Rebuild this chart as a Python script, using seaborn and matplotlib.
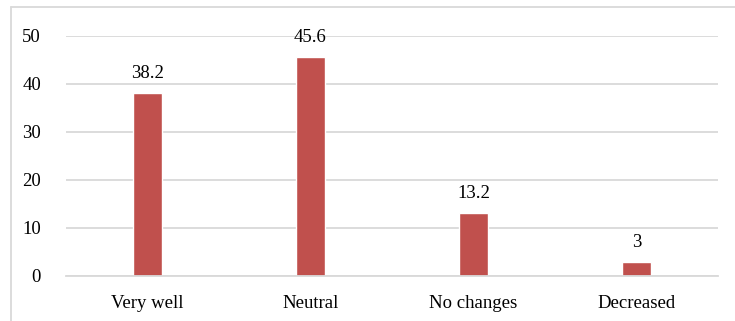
import matplotlib
matplotlib.use("Agg")
import matplotlib.pyplot as plt
from matplotlib.lines import Line2D
import seaborn as sns
import pandas as pd

categories = ["Very well", "Neutral", "No changes", "Decreased"]
values = [38.2, 45.6, 13.2, 3]
value_labels = ["38.2", "45.6", "13.2", "3"]
y_ticks = [0, 10, 20, 30, 40, 50]

sns.set_theme(style="white")
plt.rcParams["font.family"] = ["Liberation Serif", "DejaVu Serif"]

W, H, DPI = 735, 321, 100
fig = plt.figure(figsize=(W / DPI, H / DPI), dpi=DPI)
fig.patch.set_facecolor("white")

# plot area in pixel coordinates
left, right, top, bottom = 66, 718, 36, 276
ax = fig.add_axes([left / W, 1 - bottom / H, (right - left) / W, (bottom - top) / H])

df = pd.DataFrame({"category": categories, "value": values})
sns.barplot(data=df, x="category", y="value", color="#C0504D", saturation=1,
            width=0.175, ax=ax)

ax.set_ylim(0, 50)
ax.set_xlim(-0.5, len(categories) - 0.5)
ax.set_yticks(y_ticks)
ax.set_yticklabels([str(t) for t in y_ticks])
ax.yaxis.grid(True, color="#D9D9D9", linewidth=1.3)
ax.set_axisbelow(True)
for s in ["top", "right", "left"]:
    ax.spines[s].set_visible(False)
ax.spines["bottom"].set_color("#D9D9D9")
ax.spines["bottom"].set_linewidth(1.3)
ax.set_xlabel("")
ax.set_ylabel("")
ax.tick_params(axis="y", length=0, pad=18, labelsize=13.5, colors="black")
ax.tick_params(axis="x", length=0, pad=14, labelsize=13.5, colors="black")

for i, (v, lab) in enumerate(zip(values, value_labels)):
    ax.annotate(lab, (i, v), xytext=(0, 14), textcoords="offset points",
                ha="center", va="center", fontsize=13.5, color="black")

# chart frame
fig.add_artist(Line2D([11 / W, 11 / W], [0, 1 - 7 / H], color="#D9D9D9",
                      linewidth=1.3, transform=fig.transFigure))
fig.add_artist(Line2D([11 / W, 1], [1 - 7 / H, 1 - 7 / H], color="#D9D9D9",
                      linewidth=1.3, transform=fig.transFigure))

fig.savefig("out.png", dpi=DPI, facecolor="white")
